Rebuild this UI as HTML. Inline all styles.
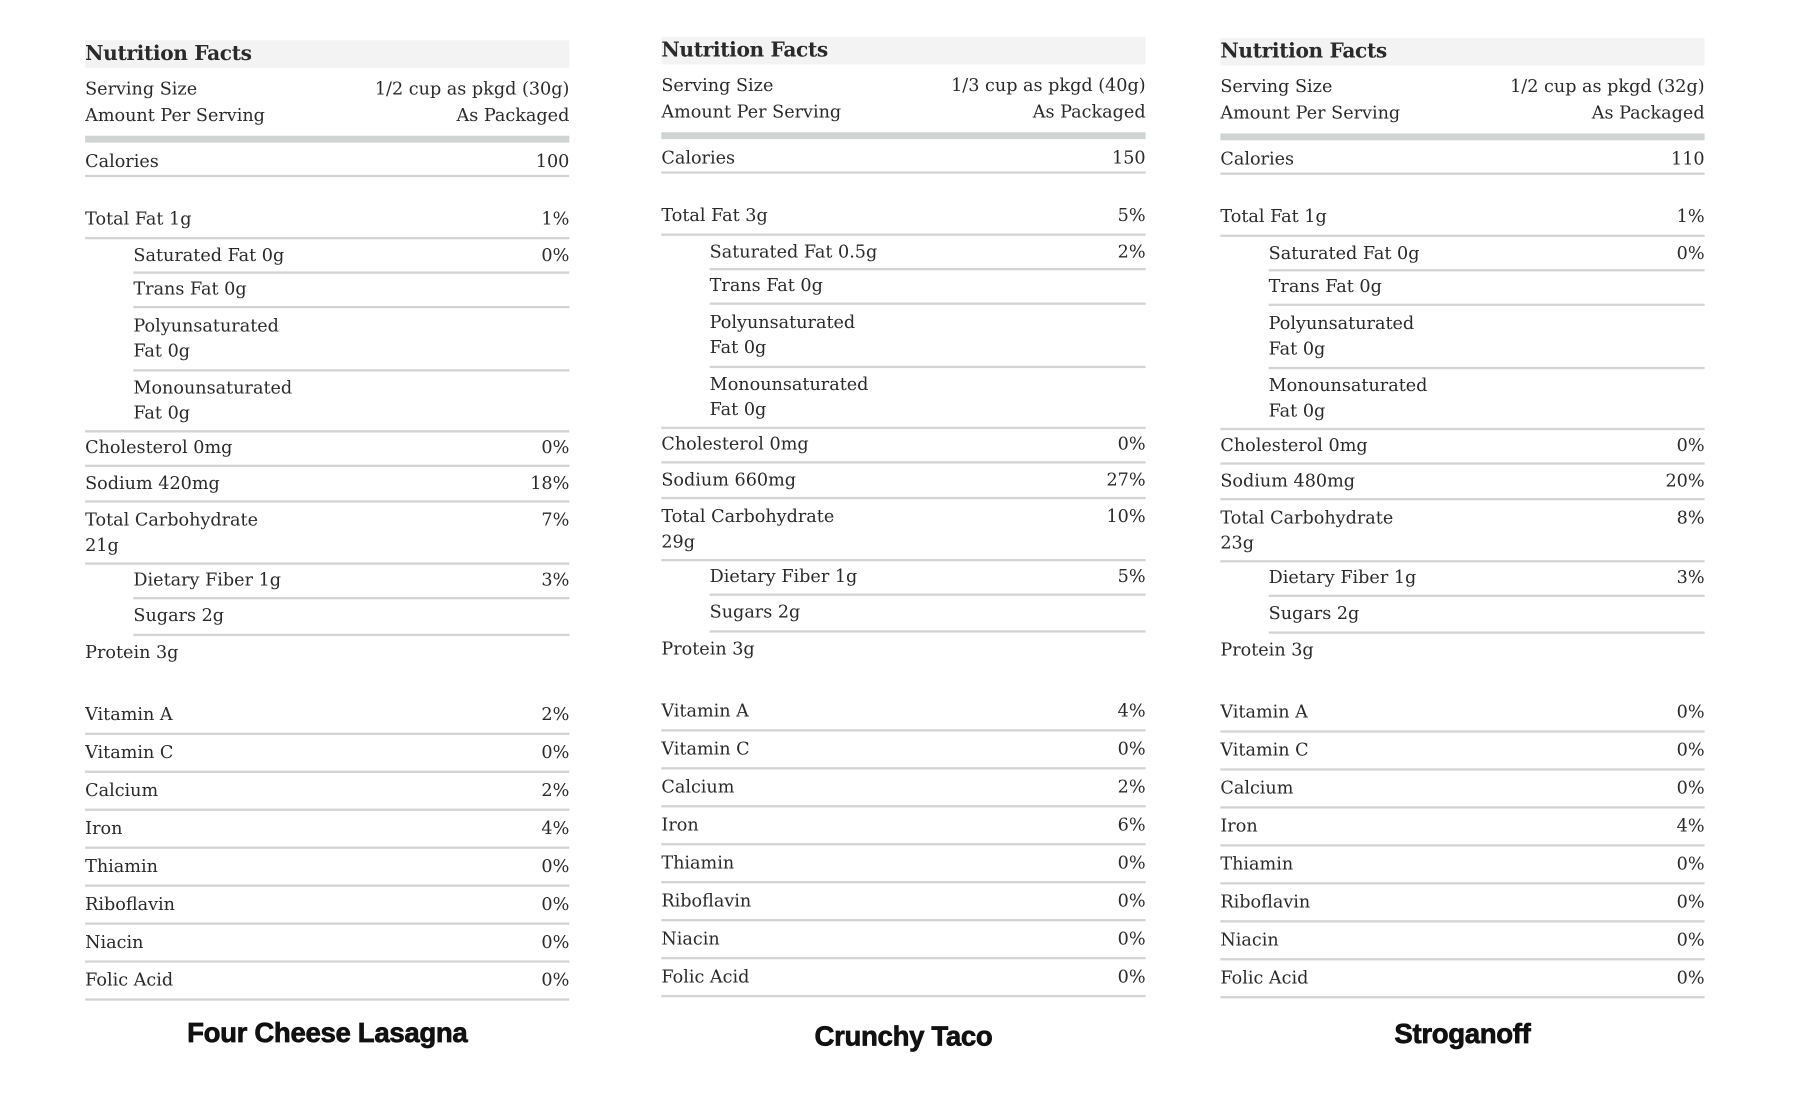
<!DOCTYPE html>
<html><head><meta charset="utf-8"><style>
html,body{margin:0;padding:0;background:#fff;width:1800px;height:1100px;overflow:hidden}
#w{position:absolute;left:0;top:0;width:1565px;height:956px;transform:scale(1.1502);transform-origin:0 0}
.p{position:absolute;width:421px;height:956px}
.p div{position:absolute}
.t{font-family:"DejaVu Serif","Liberation Serif",serif;font-size:15.3px;color:#2a2a2a;line-height:22px;left:0;right:0}
.t span{position:absolute;right:0;top:0}
.i{left:42px}
.h{left:0;right:0;top:35px;height:24px;background:#f2f3f2}
.h b{position:absolute;left:0;top:0;font-family:"DejaVu Serif","Liberation Serif",serif;font-size:17.5px;line-height:24px;color:#2a2a2a;font-weight:bold;letter-spacing:-0.3px}
.l{height:2px;background:#d3d3d3;right:0;left:0}
.li{left:42px}
.bar{left:0;right:0;height:6px;background:#d0d4d2;top:118px}
.ti{font-family:"Liberation Sans",sans-serif;font-weight:bold;font-size:24px;color:#111;left:0;right:0;text-align:center;letter-spacing:-0.3px;-webkit-text-stroke:0.6px #111}
</style></head><body><div id="w">

<div class="p" style="left:74px;top:0">
<div class="h"><b>Nutrition Facts</b></div>
<div class="t" style="top:66px">Serving Size<span>1/2 cup as pkgd (30g)</span></div>
<div class="t" style="top:89px">Amount Per Serving<span>As Packaged</span></div>
<div class="bar"></div>
<div class="t" style="top:129px">Calories<span>100</span></div><div class="l" style="top:152px"></div>
<div class="t" style="top:179px">Total Fat 1g<span>1%</span></div><div class="l" style="top:206px"></div>
<div class="t i" style="top:211px">Saturated Fat 0g<span>0%</span></div><div class="l li" style="top:236px"></div>
<div class="t i" style="top:240px">Trans Fat 0g</div><div class="l li" style="top:266px"></div>
<div class="t i" style="top:272px">Polyunsaturated<br>Fat 0g</div><div class="l li" style="top:321px"></div>
<div class="t i" style="top:326px">Monounsaturated<br>Fat 0g</div><div class="l" style="top:374px"></div>
<div class="t" style="top:378px">Cholesterol 0mg<span>0%</span></div><div class="l" style="top:404px"></div>
<div class="t" style="top:409px">Sodium 420mg<span>18%</span></div><div class="l" style="top:435px"></div>
<div class="t" style="top:441px">Total Carbohydrate<br>21g<span>7%</span></div><div class="l" style="top:489px"></div>
<div class="t i" style="top:493px">Dietary Fiber 1g<span>3%</span></div><div class="l li" style="top:519px"></div>
<div class="t i" style="top:524px">Sugars 2g</div><div class="l li" style="top:551px"></div>
<div class="t" style="top:556px">Protein 3g</div>
<div class="t" style="top:610px">Vitamin A<span>2%</span></div><div class="l" style="top:637px"></div>
<div class="t" style="top:643px">Vitamin C<span>0%</span></div><div class="l" style="top:670px"></div>
<div class="t" style="top:676px">Calcium<span>2%</span></div><div class="l" style="top:703px"></div>
<div class="t" style="top:709px">Iron<span>4%</span></div><div class="l" style="top:736px"></div>
<div class="t" style="top:742px">Thiamin<span>0%</span></div><div class="l" style="top:769px"></div>
<div class="t" style="top:775px">Riboflavin<span>0%</span></div><div class="l" style="top:802px"></div>
<div class="t" style="top:808px">Niacin<span>0%</span></div><div class="l" style="top:835px"></div>
<div class="t" style="top:841px">Folic Acid<span>0%</span></div><div class="l" style="top:868px"></div>
<div class="ti" style="top:885px">Four Cheese Lasagna</div>
</div>

<div class="p" style="left:575px;top:-3.5px">
<div class="h"><b>Nutrition Facts</b></div>
<div class="t" style="top:66px">Serving Size<span>1/3 cup as pkgd (40g)</span></div>
<div class="t" style="top:89px">Amount Per Serving<span>As Packaged</span></div>
<div class="bar"></div>
<div class="t" style="top:129px">Calories<span>150</span></div><div class="l" style="top:152px"></div>
<div class="t" style="top:179px">Total Fat 3g<span>5%</span></div><div class="l" style="top:206px"></div>
<div class="t i" style="top:211px">Saturated Fat 0.5g<span>2%</span></div><div class="l li" style="top:236px"></div>
<div class="t i" style="top:240px">Trans Fat 0g</div><div class="l li" style="top:266px"></div>
<div class="t i" style="top:272px">Polyunsaturated<br>Fat 0g</div><div class="l li" style="top:321px"></div>
<div class="t i" style="top:326px">Monounsaturated<br>Fat 0g</div><div class="l" style="top:374px"></div>
<div class="t" style="top:378px">Cholesterol 0mg<span>0%</span></div><div class="l" style="top:404px"></div>
<div class="t" style="top:409px">Sodium 660mg<span>27%</span></div><div class="l" style="top:435px"></div>
<div class="t" style="top:441px">Total Carbohydrate<br>29g<span>10%</span></div><div class="l" style="top:489px"></div>
<div class="t i" style="top:493px">Dietary Fiber 1g<span>5%</span></div><div class="l li" style="top:519px"></div>
<div class="t i" style="top:524px">Sugars 2g</div><div class="l li" style="top:551px"></div>
<div class="t" style="top:556px">Protein 3g</div>
<div class="t" style="top:610px">Vitamin A<span>4%</span></div><div class="l" style="top:637px"></div>
<div class="t" style="top:643px">Vitamin C<span>0%</span></div><div class="l" style="top:670px"></div>
<div class="t" style="top:676px">Calcium<span>2%</span></div><div class="l" style="top:703px"></div>
<div class="t" style="top:709px">Iron<span>6%</span></div><div class="l" style="top:736px"></div>
<div class="t" style="top:742px">Thiamin<span>0%</span></div><div class="l" style="top:769px"></div>
<div class="t" style="top:775px">Riboflavin<span>0%</span></div><div class="l" style="top:802px"></div>
<div class="t" style="top:808px">Niacin<span>0%</span></div><div class="l" style="top:835px"></div>
<div class="t" style="top:841px">Folic Acid<span>0%</span></div><div class="l" style="top:868px"></div>
<div class="ti" style="top:891px">Crunchy Taco</div>
</div>

<div class="p" style="left:1061px;top:-2.5px">
<div class="h"><b>Nutrition Facts</b></div>
<div class="t" style="top:66px">Serving Size<span>1/2 cup as pkgd (32g)</span></div>
<div class="t" style="top:89px">Amount Per Serving<span>As Packaged</span></div>
<div class="bar"></div>
<div class="t" style="top:129px">Calories<span>110</span></div><div class="l" style="top:152px"></div>
<div class="t" style="top:179px">Total Fat 1g<span>1%</span></div><div class="l" style="top:206px"></div>
<div class="t i" style="top:211px">Saturated Fat 0g<span>0%</span></div><div class="l li" style="top:236px"></div>
<div class="t i" style="top:240px">Trans Fat 0g</div><div class="l li" style="top:266px"></div>
<div class="t i" style="top:272px">Polyunsaturated<br>Fat 0g</div><div class="l li" style="top:321px"></div>
<div class="t i" style="top:326px">Monounsaturated<br>Fat 0g</div><div class="l" style="top:374px"></div>
<div class="t" style="top:378px">Cholesterol 0mg<span>0%</span></div><div class="l" style="top:404px"></div>
<div class="t" style="top:409px">Sodium 480mg<span>20%</span></div><div class="l" style="top:435px"></div>
<div class="t" style="top:441px">Total Carbohydrate<br>23g<span>8%</span></div><div class="l" style="top:489px"></div>
<div class="t i" style="top:493px">Dietary Fiber 1g<span>3%</span></div><div class="l li" style="top:519px"></div>
<div class="t i" style="top:524px">Sugars 2g</div><div class="l li" style="top:551px"></div>
<div class="t" style="top:556px">Protein 3g</div>
<div class="t" style="top:610px">Vitamin A<span>0%</span></div><div class="l" style="top:637px"></div>
<div class="t" style="top:643px">Vitamin C<span>0%</span></div><div class="l" style="top:670px"></div>
<div class="t" style="top:676px">Calcium<span>0%</span></div><div class="l" style="top:703px"></div>
<div class="t" style="top:709px">Iron<span>4%</span></div><div class="l" style="top:736px"></div>
<div class="t" style="top:742px">Thiamin<span>0%</span></div><div class="l" style="top:769px"></div>
<div class="t" style="top:775px">Riboflavin<span>0%</span></div><div class="l" style="top:802px"></div>
<div class="t" style="top:808px">Niacin<span>0%</span></div><div class="l" style="top:835px"></div>
<div class="t" style="top:841px">Folic Acid<span>0%</span></div><div class="l" style="top:868px"></div>
<div class="ti" style="top:888px">Stroganoff</div>
</div>

</div></body></html>
